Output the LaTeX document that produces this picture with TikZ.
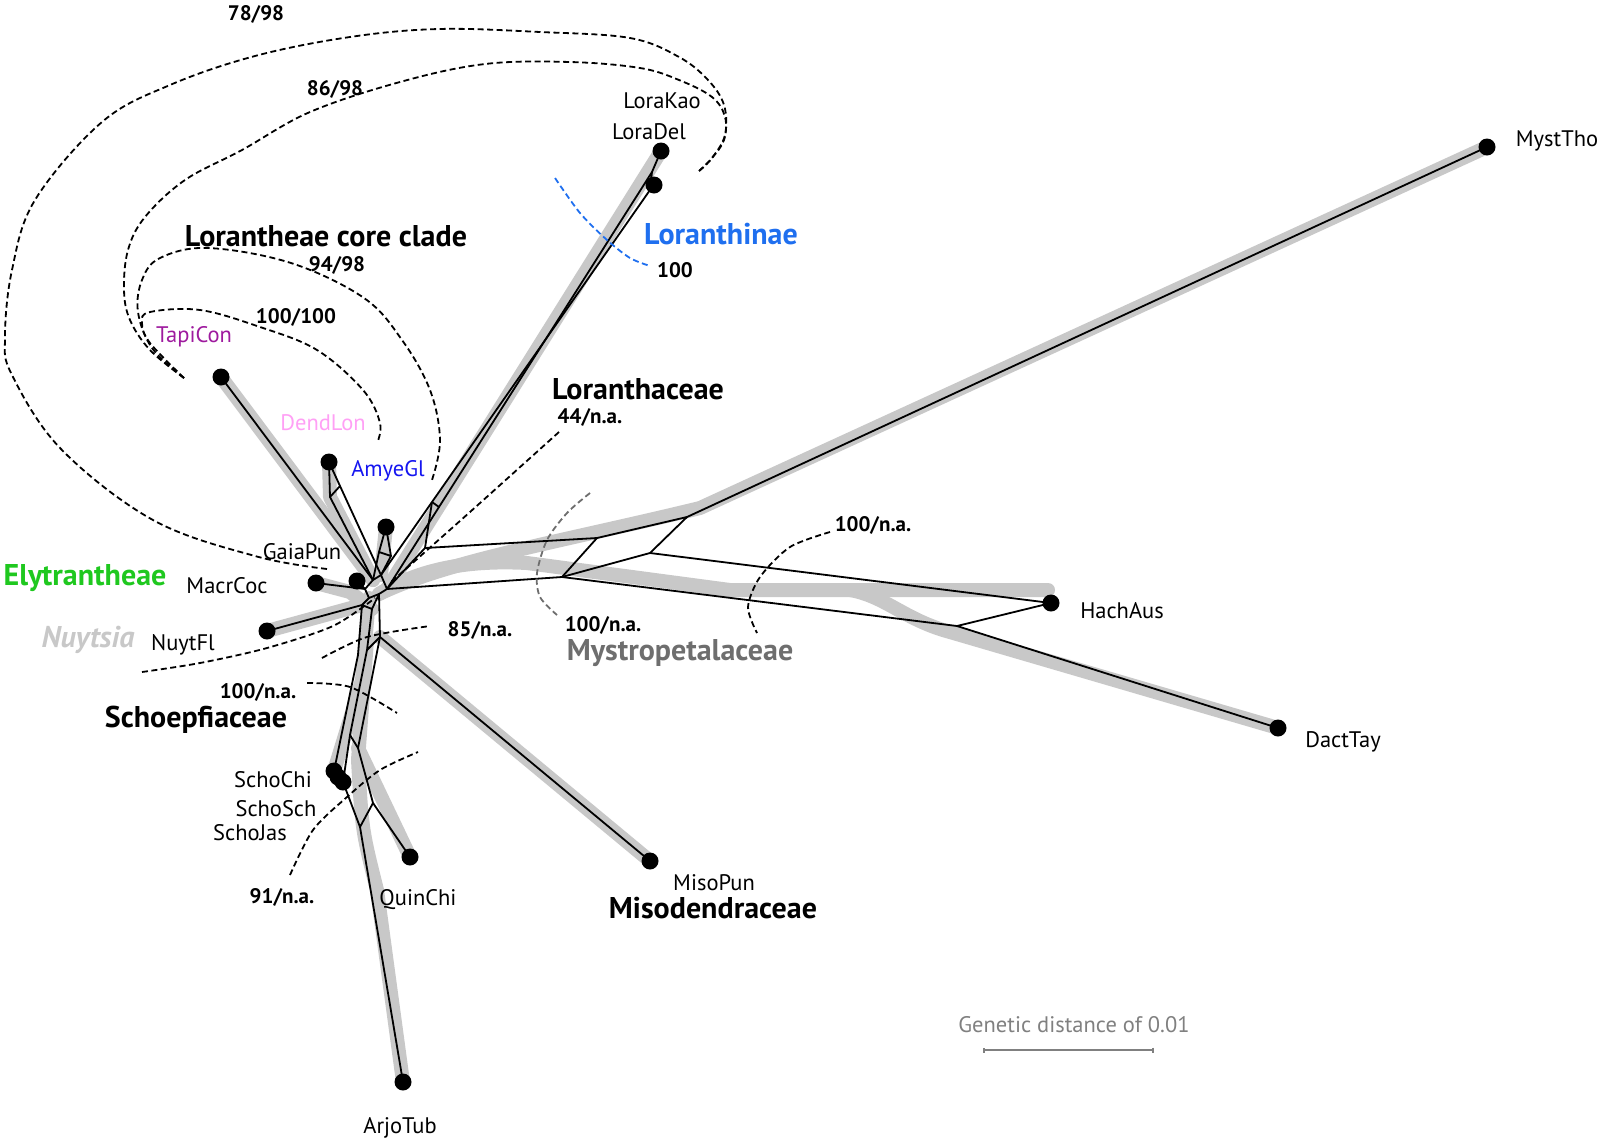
\documentclass[tikz,border=0pt]{standalone}
\usepackage{fontspec}
\setmainfont{PT Sans}
\usetikzlibrary{arrows.meta}
\definecolor{bandgray}{HTML}{C8C8C8}
\definecolor{tapicol}{HTML}{9E1A9E}
\definecolor{dendcol}{HTML}{FFA0F5}
\definecolor{amyecol}{HTML}{1515F0}
\definecolor{lorcol}{HTML}{1F6FEF}
\definecolor{elycol}{HTML}{1FC81F}
\definecolor{mystcol}{HTML}{6E6E6E}
\tikzset{band/.style={draw=bandgray,line width=14pt,line cap=round,line join=round},
  edge/.style={draw=black,line width=1.8pt,line join=round},
  tip/.style={circle,fill=black,inner sep=0pt,minimum size=17pt},
  taxon/.style={font=\fontsize{22.5}{26}\selectfont},
  clade/.style={font=\fontsize{30}{34}\selectfont\bfseries},
  supp/.style={font=\fontsize{21}{25}\selectfont\bfseries},
  arc/.style={line width=1.8pt,dash pattern=on 6pt off 3.5pt}}
\begin{document}
\begin{tikzpicture}[x=1pt,y=-1pt]
\useasboundingbox (0,0) rectangle (1600,1141);
% tips
\foreach \n/\x/\y in {tapi/221/377,dend/329/462,amye/386/527,loradel/661/151,lorakao/654/185,
  myst/1487/147,hach/1051/603,dact/1278/728,miso/650/861,quin/410/857,arjo/403/1082,
  schochi/334/771,schojas/338/777,schosch/343/782,nuyt/267/631,macr/316/583,gaia/357/581}
  \coordinate (\n) at (\x,\y);
% splits
\foreach \n/\x/\y in {h1/373/580,h2/381/575,h3/387/589,h4/379/594,h5/369/598,h6/365/589,
  d1/330/497,d2/340/486,a1/379/552,a2/391/556,la/432/502,ls/439/507,lk/650/190,ld/652/172,
  m1/425/548,m2/597/538,m3/687/517,n1/562/577,n2/650/553,p1/957/626,
  nb1/362/605,nb2/372/609,vm/380/637,v2/367/650,v3/358/655,s1/350/735,
  q1/358/748,q2/373/803,sa/360/827}
  \coordinate (\n) at (\x,\y);

% grey tree
\draw[band] (tapi) -- (h1);
\draw[band] (dend) -- (d1) -- (h1);
\draw[band] (amye) -- (h2);
\draw[band] (h3) -- (loradel);
\draw[band] (h4) .. controls (450,560) and (560,542) .. (700,508) -- (myst);
\draw[band] (h4) .. controls (420,568) and (470,560) .. (527,563) -- (730,590) -- (1048,590);
\draw[band] (850,590) .. controls (885,596) and (905,620) .. (950,632) -- (dact);
\draw[band] (vm) -- (miso);
\draw[band] (h5) -- (362,680) -- (schochi);
\draw[band] (367,640) -- (358,760) .. controls (362,830) .. (377,890) -- (arjo);
\draw[band] (q1) -- (quin);
\draw[band] (nuyt) -- (nb1);
\draw[band] (macr) -- (350,592) -- (nb2);

% network
\draw[edge] (tapi) -- (h1);
\draw[edge] (dend) -- (d1) -- (h1) (dend) -- (d2) -- (h2) (d1) -- (d2);
\draw[edge] (amye) -- (a1) -- (h1) (amye) -- (a2) -- (h2) (a1) -- (a2);
\draw[edge] (h2) -- (la) -- (lk) -- (lorakao);
\draw[edge] (h3) -- (ls) -- (ld) -- (loradel) (lk) -- (ld) (la) -- (ls);
\draw[edge] (h3) -- (m1) -- (la);
\draw[edge] (m1) -- (m2) -- (m3) -- (myst);
\draw[edge] (h3) -- (n1) -- (n2) -- (hach);
\draw[edge] (m2) -- (n1) (m3) -- (n2);
\draw[edge] (n1) -- (p1) -- (dact) (p1) -- (hach);
\draw[edge] (h1) -- (h2) -- (h3) -- (h4) -- (h5) -- (h6) -- cycle;
\draw[edge] (gaia) -- (h6) (macr) -- (h6);
\draw[edge] (nuyt) -- (nb1) -- (h5) (nb1) -- (nb2) -- (h4);
\draw[edge] (h4) -- (vm) -- (q1) -- (q2) -- (quin);
\draw[edge] (nb2) -- (v2) -- (s1) -- (schosch) (vm) -- (v2);
\draw[edge] (nb1) -- (v3) -- (schochi) (s1) -- (q1);
\draw[edge] (vm) -- (miso);
\draw[edge] (schosch) -- (sa) -- (arjo) (sa) -- (q2);

% support arcs
\draw[arc] plot[smooth,tension=0.6] coordinates {(327,569) (255,556) (153,520) (61,449) (12,375) (5,337)
  (12,270) (35,200) (102,122) (170,85) (255,56) (350,37) (439,29) (540,32) (630,38) (679,57)
  (708,80) (724,105) (725,135) (712,158) (699,171)};
\draw[arc] plot[smooth,tension=0.6] coordinates {(184,378) (150,350) (130,320) (124,290) (128,250)
  (145,217) (185,180) (242,150) (310,112) (400,82) (485,64) (570,62) (640,68) (679,80) (712,97)
  (725,117) (724,140) (712,158) (699,171)};
\draw[arc] plot[smooth,tension=0.6] coordinates {(184,378) (152,348) (138,312) (142,280) (160,258)
  (208,248) (291,263) (364,298) (402,340) (430,390) (440,440) (432,480)};
\draw[arc] plot[smooth,tension=0.6] coordinates {(184,378) (150,343) (142,323) (150,312) (200,310)
  (260,327) (317,350) (363,390) (380,423) (377,443)};
\draw[arc,lorcol] plot[smooth] coordinates {(555,178) (580,213) (607,240) (630,258) (650,266)};
\draw[arc] plot[smooth] coordinates {(559,432) (470,512) (390,583)};
\draw[arc,mystcol] plot[smooth] coordinates {(590,493) (567,513) (547,540) (537,573) (540,597) (557,615)};
\draw[arc] plot[smooth] coordinates {(830,532) (790,547) (760,577) (748,607) (757,633)};
\draw[arc] plot[smooth] coordinates {(322,658) (367,637) (430,626)};
\draw[arc] plot[smooth] coordinates {(142,672) (200,663) (267,648) (333,626) (375,598)};
\draw[arc] plot[smooth] coordinates {(307,683) (350,687) (397,713)};
\draw[arc] plot[smooth] coordinates {(290,875) (313,830) (347,797) (380,770) (418,752)};

% dots
\foreach \n in {tapi,dend,amye,loradel,lorakao,myst,hach,dact,miso,quin,arjo,schochi,schojas,schosch,nuyt,macr,gaia}
  \node[tip] (t\n) at (\n) {};

% taxon names
\foreach \n/\x/\y/\t in {lorakao/662/101/LoraKao,loradel/649/132/LoraDel,myst/1557/141/MystTho,
  hach/1122/611/HachAus,dact/1343/742/DactTay,gaia/302/552/GaiaPun,macr/227/586/MacrCoc,
  nuyt/183/645/NuytFl,schochi/273/780/SchoChi,schosch/276/809/SchoSch,schojas/250/833/SchoJas,
  quin/418/900/QuinChi,miso/714/883/MisoPun,arjo/400/1128/ArjoTub}
  \node[taxon] (l\n) at (\x,\y) {\t};
\node[taxon,text=tapicol] (ltapi) at (194,337) {TapiCon};
\node[taxon,text=dendcol] (ldend) at (323,423) {DendLon};
\node[taxon,text=amyecol] (lamye) at (388,471) {AmyeGl};

% clades
\node[clade] (clcore) at (326,236) {Lorantheae core clade};
\node[clade,text=lorcol] (cllor) at (721,234) {Loranthinae};
\node[clade] (clfam) at (638,389) {Loranthaceae};
\node[clade,text=elycol] (clely) at (85,578) {Elytrantheae};
\node[clade,text=bandgray,font=\fontsize{30}{34}\selectfont\bfseries\itshape] (clnuy) at (88,640) {Nuytsia};
\node[clade] (clscho) at (196,720) {Schoepfiaceae};
\node[clade,text=mystcol] (clmyst) at (680,653) {Mystropetalaceae};
\node[clade] (clmiso) at (713,908) {Misodendraceae};

% support values
\foreach \n/\x/\y/\t in {a/256/14/78\slash98,b/335/89/86\slash98,c/337/265/94\slash98,d/296/317/100\slash100,
  e/675/270/100,f/590/417/44\slash n.a.,g/873/525/100\slash n.a.,h/603/625/100\slash n.a.,
  i/480/630/85\slash n.a.,j/258/692/100\slash n.a.,k/282/897/91\slash n.a.}
  \node[supp] (s\n) at (\x,\y) {\t};

% scale
\node[taxon,text=gray] (scale) at (1074,1025) {Genetic distance of 0.01};
\coordinate (sb1) at (983,1050);
\coordinate (sb2) at (1154,1050);
\draw[gray,line width=2pt,{Bar[width=5pt]}-{Bar[width=5pt]}] (sb1) -- (sb2);
\end{tikzpicture}
\end{document}
